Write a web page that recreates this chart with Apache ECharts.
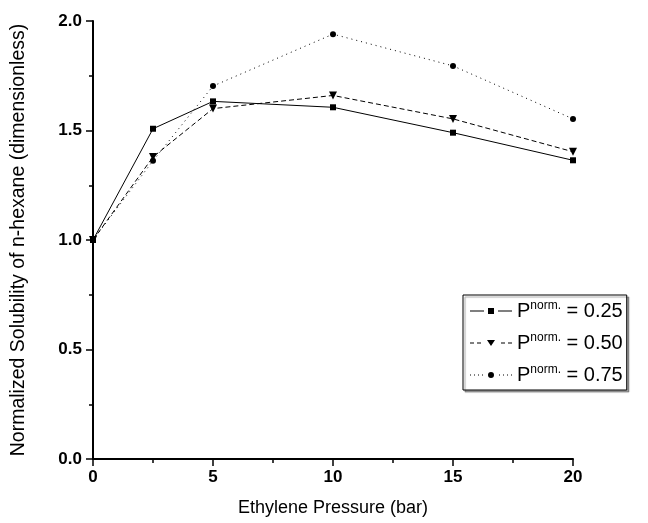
<!DOCTYPE html>
<html><head><meta charset="utf-8">
<script src="https://cdn.jsdelivr.net/npm/echarts@6/dist/echarts.min.js"></script>
<style>html,body{margin:0;padding:0;background:#fff}#c{width:648px;height:523px}</style>
</head><body><div id="c"></div>
<script>
const xValues = [0, 2.5, 5, 10, 15, 20];
const s025 = [1.0, 1.508, 1.633, 1.606, 1.490, 1.364];
const s050 = [1.0, 1.379, 1.600, 1.660, 1.553, 1.403];
const s075 = [1.0, 1.362, 1.703, 1.940, 1.795, 1.553];
const seriesNames = ['0.25', '0.50', '0.75'];
const xTicks = [0, 5, 10, 15, 20];
const yTicks = [0.0, 0.5, 1.0, 1.5, 2.0];

const pair = arr => xValues.map((x, i) => [x, arr[i]]);
const font = 'Liberation Sans, Arial, sans-serif';
const chart = echarts.init(document.getElementById('c'), null, {renderer: 'canvas'});
const mk = (name, data, type, symbol, size, rot) => ({
  name: name, type: 'line', data: pair(data), symbol: symbol, symbolSize: size, symbolRotate: rot || 0,
  lineStyle: {color: '#000', width: 1, type: type},
  itemStyle: {color: '#000'}, animation: false
});
const icons = [
  'path://M0 2.5H14V3.5H0Z M18 0H24V6H18Z M28 2.5H42V3.5H28Z',
  'path://M0 2.5H4V3.5H0Z M7 2.5H11V3.5H7Z M17 0H25L21 6Z M31 2.5H35V3.5H31Z M38 2.5H42V3.5H38Z',
  'path://M0 2.5H1V3.5H0Z M4 2.5H5V3.5H4Z M8 2.5H9V3.5H8Z M12 2.5H13V3.5H12Z M18 3A3 3 0 1 0 24 3A3 3 0 1 0 18 3Z M29 2.5H30V3.5H29Z M33 2.5H34V3.5H33Z M37 2.5H38V3.5H37Z M41 2.5H42V3.5H41Z'
];
const tickCommon = {lineStyle: {color: '#000', width: 1.5}};
chart.setOption({
  animation: false,
  grid: {left: 93, right: 75, top: 21, bottom: 64},
  xAxis: {
    type: 'value', min: 0, max: 20, interval: 5,
    name: 'Ethylene Pressure (bar)', nameLocation: 'middle', nameGap: 40,
    nameTextStyle: {fontFamily: font, fontSize: 18, color: '#000'},
    axisLine: {lineStyle: {color: '#000', width: 2}},
    axisTick: Object.assign({length: 7}, tickCommon),
    minorTick: Object.assign({show: true, splitNumber: 2, length: 4}, tickCommon),
    axisLabel: {fontFamily: font, fontSize: 17, fontWeight: 'bold', color: '#000', margin: 10,
      formatter: v => xTicks.includes(v) ? String(v) : ''},
    splitLine: {show: false}
  },
  yAxis: {
    type: 'value', min: 0, max: 2, interval: 0.5,
    name: 'Normalized Solubility of n-hexane (dimensionless)', nameLocation: 'middle', nameGap: 64,
    nameTextStyle: {fontFamily: font, fontSize: 19.5, color: '#000'},
    axisLine: {show: true, lineStyle: {color: '#000', width: 2}},
    axisTick: Object.assign({show: true, length: 7}, tickCommon),
    minorTick: Object.assign({show: true, splitNumber: 2, length: 4}, tickCommon),
    axisLabel: {fontFamily: font, fontSize: 17, fontWeight: 'bold', color: '#000', margin: 11,
      formatter: v => yTicks.includes(v) ? v.toFixed(1) : ''},
    splitLine: {show: false}
  },
  legend: {
    orient: 'vertical', left: 463, top: 295,
    backgroundColor: '#fff', borderColor: '#000', borderWidth: 1,
    padding: [5, 4, 5, 7], itemGap: 11, itemWidth: 42, itemHeight: 6,
    shadowColor: 'rgba(0,0,0,0.35)', shadowOffsetX: 2, shadowOffsetY: 2, shadowBlur: 1,
    itemStyle: {borderWidth: 0},
    textStyle: {fontFamily: font, fontSize: 20, color: '#000',
      rich: {sup: {fontFamily: font, fontSize: 12, verticalAlign: 'top', lineHeight: 22, padding: [0, 0, 8, 0], color: '#000'},
             n: {fontFamily: font, fontSize: 20, lineHeight: 22, color: '#000'}}},
    formatter: name => '{n|P}{sup|norm.}{n| = ' + name + '}',
    data: seriesNames.map((n, i) => ({name: n, icon: icons[i]}))
  },
  series: [
    mk(seriesNames[0], s025, 'solid', 'rect', 6),
    mk(seriesNames[1], s050, [5, 3], 'triangle', 8, 180),
    mk(seriesNames[2], s075, [1, 4], 'circle', 6)
  ]
});
</script></body></html>
